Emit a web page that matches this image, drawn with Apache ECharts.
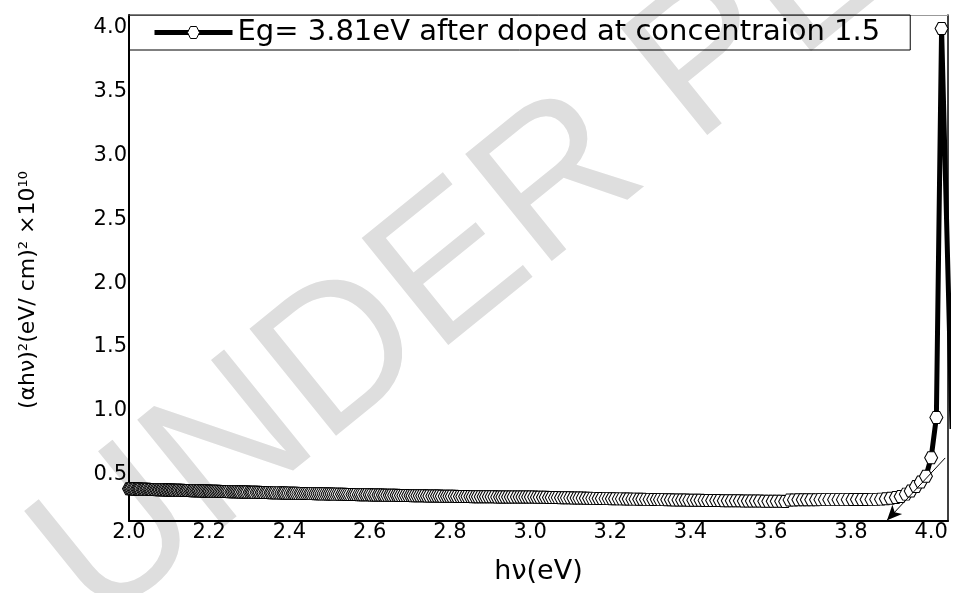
<!DOCTYPE html>
<html><head><meta charset="utf-8">
<script src="https://cdn.jsdelivr.net/npm/echarts@6/dist/echarts.min.js"></script>
<style>html,body{margin:0;padding:0;background:#fff}#c{width:955px;height:593px}</style>
</head><body><div id="c"></div>
<script>
// photon energy hv (eV)
const hv = [
2.000,2.003,2.006,2.010,2.013,2.016,2.020,2.023,2.026,2.029,
2.033,2.036,2.039,2.043,2.046,2.050,2.053,2.056,2.060,2.063,
2.067,2.070,2.074,2.077,2.081,2.084,2.088,2.091,2.095,2.098,
2.102,2.105,2.109,2.112,2.116,2.120,2.123,2.127,2.131,2.134,
2.138,2.142,2.145,2.149,2.153,2.157,2.160,2.164,2.168,2.172,
2.175,2.179,2.183,2.187,2.191,2.195,2.199,2.202,2.206,2.210,
2.214,2.218,2.222,2.226,2.230,2.234,2.238,2.242,2.246,2.250,
2.255,2.259,2.263,2.267,2.271,2.275,2.279,2.284,2.288,2.292,
2.296,2.301,2.305,2.309,2.313,2.318,2.322,2.326,2.331,2.335,
2.340,2.344,2.348,2.353,2.357,2.362,2.366,2.371,2.375,2.380,
2.385,2.389,2.394,2.398,2.403,2.408,2.412,2.417,2.422,2.427,
2.431,2.436,2.441,2.446,2.451,2.455,2.460,2.465,2.470,2.475,
2.480,2.485,2.490,2.495,2.500,2.505,2.510,2.515,2.520,2.525,
2.531,2.536,2.541,2.546,2.551,2.557,2.562,2.567,2.573,2.578,
2.583,2.589,2.594,2.600,2.605,2.611,2.616,2.622,2.627,2.633,
2.638,2.644,2.650,2.655,2.661,2.667,2.672,2.678,2.684,2.690,
2.696,2.702,2.707,2.713,2.719,2.725,2.731,2.737,2.743,2.749,
2.756,2.762,2.768,2.774,2.780,2.787,2.793,2.799,2.805,2.812,
2.818,2.825,2.831,2.838,2.844,2.851,2.857,2.864,2.870,2.877,
2.884,2.890,2.897,2.904,2.911,2.918,2.925,2.931,2.938,2.945,
2.952,2.959,2.967,2.974,2.981,2.988,2.995,
3.002,3.010,3.017,3.024,3.032,3.039,3.047,3.054,3.062,3.069,
3.077,3.085,3.092,3.100,3.108,3.116,3.123,3.131,3.139,3.147,
3.155,3.163,3.171,3.179,3.188,3.196,3.204,3.212,3.221,3.229,
3.238,3.246,3.255,3.263,3.272,3.280,3.289,3.298,3.307,3.316,
3.324,3.333,3.342,3.351,3.360,3.370,3.379,3.388,3.397,3.407,
3.416,3.425,3.435,3.444,3.454,3.464,3.473,3.483,3.493,3.503,
3.513,3.523,3.533,3.543,3.553,3.563,3.573,3.584,3.594,3.605,
3.615,3.626,3.636,3.647,3.658,3.669,3.680,3.690,3.701,3.713,
3.724,3.735,3.746,3.758,3.769,3.780,3.792,3.804,3.815,3.827,
3.839,3.851,3.863,3.875,3.887,3.899,3.912,3.924,3.937,3.949,
3.962,3.974,3.987,4.000,4.013,4.026,4.052
];
// (alpha h v)^2 in units of 1e10 (eV/cm)^2
const alphaHv2 = [
0.392,0.392,0.392,0.391,0.391,0.391,0.390,0.390,0.390,0.389,
0.389,0.389,0.388,0.388,0.388,0.387,0.387,0.387,0.386,0.386,
0.386,0.385,0.385,0.385,0.384,0.384,0.384,0.383,0.383,0.383,
0.382,0.382,0.382,0.381,0.381,0.381,0.380,0.380,0.380,0.379,
0.379,0.379,0.378,0.378,0.378,0.377,0.377,0.377,0.376,0.376,
0.376,0.375,0.375,0.375,0.374,0.374,0.374,0.373,0.373,0.373,
0.372,0.372,0.372,0.371,0.371,0.371,0.370,0.370,0.370,0.369,
0.369,0.369,0.368,0.368,0.368,0.367,0.367,0.367,0.366,0.366,
0.366,0.365,0.365,0.365,0.364,0.364,0.364,0.363,0.363,0.363,
0.362,0.362,0.362,0.361,0.361,0.361,0.360,0.360,0.360,0.359,
0.359,0.359,0.358,0.358,0.358,0.357,0.357,0.357,0.356,0.356,
0.356,0.355,0.355,0.355,0.354,0.354,0.354,0.353,0.353,0.353,
0.352,0.352,0.352,0.351,0.351,0.351,0.350,0.350,0.350,0.349,
0.349,0.349,0.348,0.348,0.348,0.347,0.347,0.347,0.346,0.346,
0.346,0.345,0.345,0.345,0.344,0.344,0.344,0.343,0.343,0.343,
0.342,0.342,0.342,0.341,0.341,0.341,0.340,0.340,0.340,0.339,
0.339,0.339,0.338,0.338,0.338,0.337,0.337,0.337,0.336,0.336,
0.336,0.335,0.335,0.335,0.334,0.334,0.334,0.333,0.333,0.333,
0.332,0.332,0.332,0.331,0.331,0.331,0.330,0.330,0.330,0.330,
0.329,0.329,0.329,0.329,0.329,0.328,0.328,0.328,0.328,0.328,
0.328,0.328,0.327,0.327,0.327,0.327,0.327,
0.327,0.327,0.326,0.326,0.325,0.325,0.324,0.324,0.323,0.323,
0.322,0.322,0.321,0.321,0.320,0.320,0.319,0.319,0.318,0.318,
0.317,0.317,0.316,0.316,0.315,0.315,0.314,0.314,0.313,0.313,
0.312,0.312,0.311,0.311,0.310,0.310,0.309,0.309,0.308,0.308,
0.307,0.307,0.306,0.306,0.305,0.305,0.304,0.304,0.303,0.303,
0.302,0.302,0.301,0.301,0.300,0.300,0.300,0.299,0.299,0.299,
0.298,0.298,0.297,0.297,0.297,0.296,0.296,0.295,0.295,0.295,
0.294,0.294,0.293,0.305,0.305,0.306,0.306,0.306,0.306,0.306,
0.307,0.307,0.307,0.307,0.307,0.307,0.307,0.308,0.308,0.308,
0.308,0.309,0.309,0.311,0.314,0.318,0.324,0.332,0.350,0.375,
0.410,0.445,0.490,0.635,0.950,3.990,0.860
];
const xTicks = [2.0,2.2,2.4,2.6,2.8,3.0,3.2,3.4,3.6,3.8,4.0];
const yTicks = [0.5,1.0,1.5,2.0,2.5,3.0,3.5,4.0];
const arrowFrom = [4.035, 0.633];
const arrowTo = [3.89, 0.145];
const seriesName = 'Eg= 3.81eV after doped at concentraion 1.5';
const watermarkText = 'UNDER PEER REVIEW';

const FONT = 'DejaVu Sans';
const hexagon = 'path://M-1,0 L-0.5,-0.866 L0.5,-0.866 L1,0 L0.5,0.866 L-0.5,0.866 Z';
const chart = echarts.init(document.getElementById('c'));
chart.setOption({
  animation: false,
  backgroundColor: '#fff',
  graphic: [{
    type: 'text', silent: true, z: -10, zlevel: 0,
    x: 64, y: 585, rotation: 39 * Math.PI / 180,
    style: {text: watermarkText, font: '200px "Liberation Sans"', fill: '#dedede',
      textAlign: 'left', textVerticalAlign: 'middle'}
  }],
  grid: {left: 129, right: 7, top: 15, bottom: 72, containLabel: false},
  legend: {
    data: [seriesName], left: 129, top: 15,
    padding: [3, 30, 3, 23],
    borderColor: '#000', borderWidth: 1,
    itemWidth: 78, itemHeight: 15,
    lineStyle: {color: '#000', width: 5},
    itemStyle: {color: '#fff', borderColor: '#000', borderWidth: 1},
    textStyle: {fontFamily: FONT, fontSize: 29, color: '#000'}
  },
  xAxis: [{
    type: 'value', min: 2.0, max: 4.042,
    name: 'hν(eV)', nameLocation: 'middle', nameGap: 37,
    nameTextStyle: {fontFamily: FONT, fontSize: 27, color: '#000'},
    axisLine: {lineStyle: {color: '#000', width: 2}},
    axisTick: {show: false},
    splitLine: {show: false},
    axisLabel: {customValues: xTicks, formatter: v => v.toFixed(1), margin: 1,
      fontFamily: FONT, fontSize: 21, color: '#000'}
  }, {
    type: 'value', position: 'top', min: 2.0, max: 4.042,
    axisLine: {show: true, lineStyle: {color: '#999', width: 1}},
    axisTick: {show: false}, axisLabel: {show: false}, splitLine: {show: false}
  }],
  yAxis: [{
    type: 'value', min: 0.14, max: 4.096,
    name: '(αhν){s|2}(eV/ cm){s|2} ×10{s|10}', nameLocation: 'middle', nameGap: 90,
    nameTextStyle: {fontFamily: FONT, fontSize: 22, color: '#000', padding: [0, 44, 0, 0],
      rich: {s: {fontFamily: FONT, fontSize: 13, color: '#000', verticalAlign: 'top', lineHeight: 14}}},
    axisLine: {show: true, lineStyle: {color: '#000', width: 2}},
    axisTick: {show: false},
    splitLine: {show: false},
    axisLabel: {customValues: yTicks, formatter: v => v.toFixed(1), margin: 2,
      fontFamily: FONT, fontSize: 21, color: '#000'}
  }, {
    type: 'value', position: 'right', min: 0.14, max: 4.096,
    axisLine: {show: true, lineStyle: {color: '#000', width: 1.5}},
    axisTick: {show: false}, axisLabel: {show: false}, splitLine: {show: false}
  }],
  series: [{
    name: seriesName, type: 'line',
    data: hv.map((e, i) => [e, alphaHv2[i]]),
    symbol: hexagon, symbolSize: [13, 12], showAllSymbol: true,
    lineStyle: {color: '#000', width: 5},
    itemStyle: {color: '#fff', borderColor: '#000', borderWidth: 1},
    emphasis: {disabled: true},
    markLine: {
      silent: true, symbol: ['none', 'arrow'], symbolSize: [10, 15],
      lineStyle: {color: '#000', width: 1, type: 'solid'},
      label: {show: false},
      data: [[{coord: arrowFrom}, {coord: arrowTo}]]
    }
  }]
});
</script>
</body></html>
